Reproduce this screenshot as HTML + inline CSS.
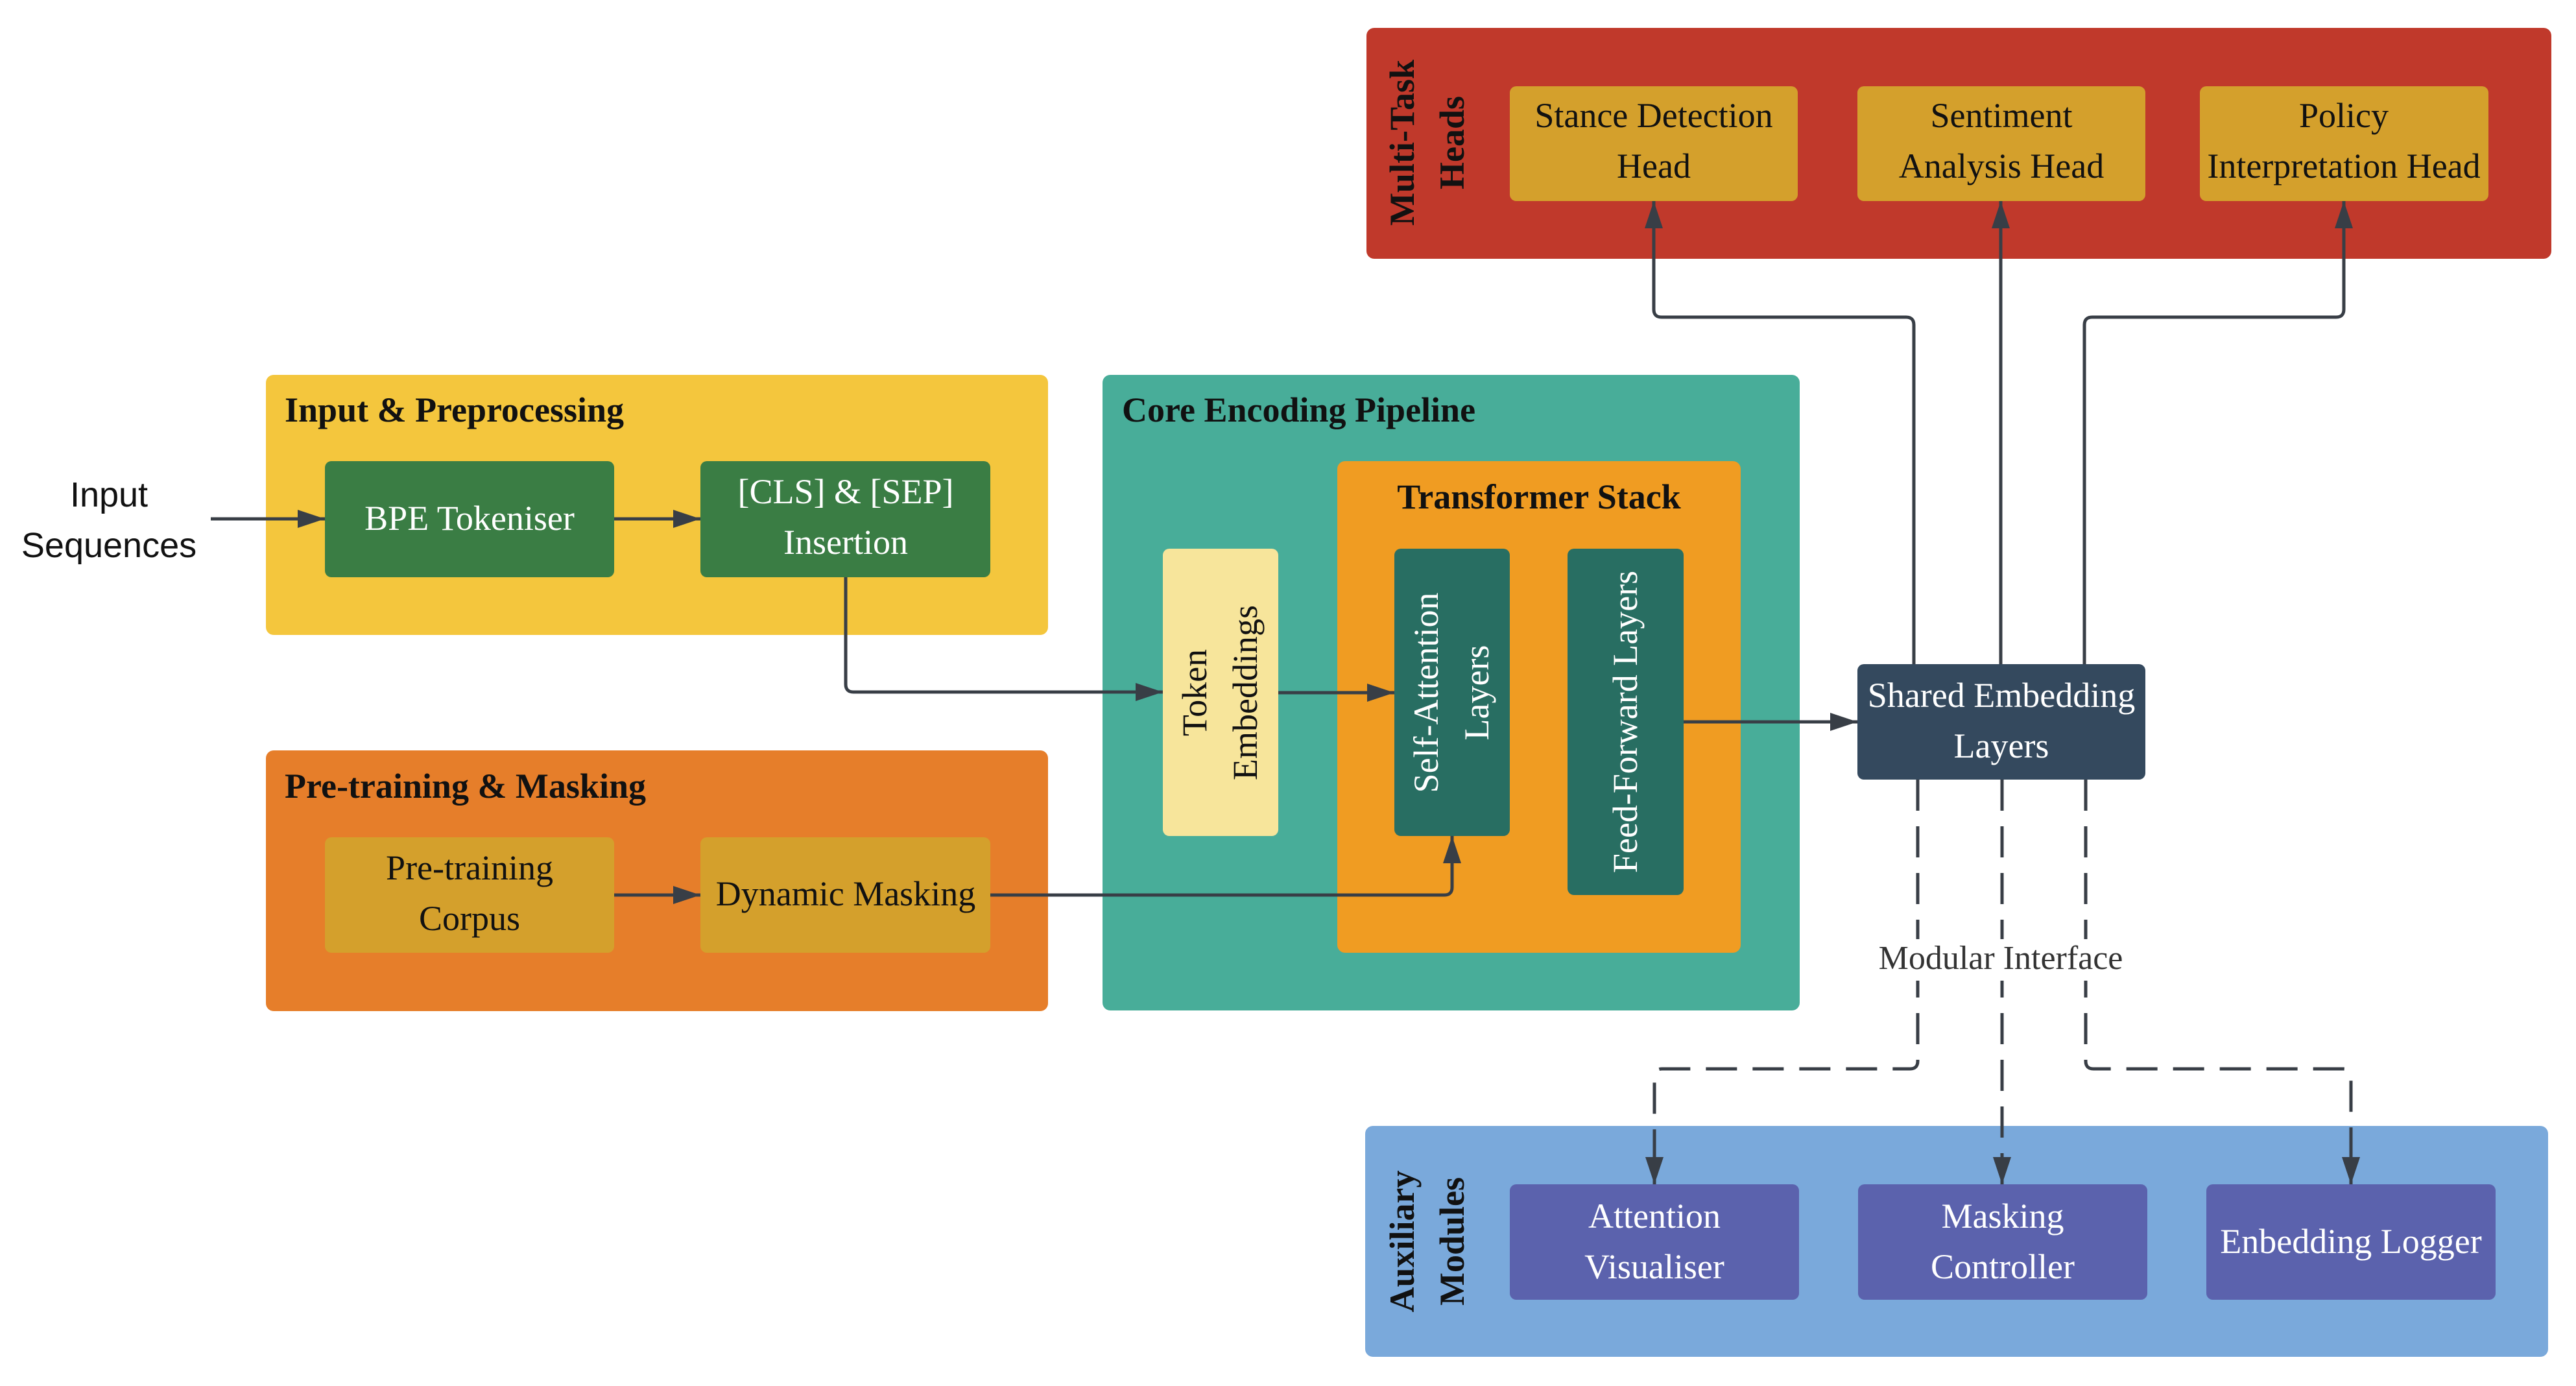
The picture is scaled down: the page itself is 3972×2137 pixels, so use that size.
<!DOCTYPE html>
<html><head><meta charset="utf-8"><style>
html,body{margin:0;padding:0;background:#fff;}
svg{display:block;}
text{font-family:"Liberation Serif",serif;}
text.sans{font-family:"Liberation Sans",sans-serif;}
</style></head><body>
<svg width="3972" height="2137" viewBox="0 0 3972 2137" xmlns="http://www.w3.org/2000/svg">
<defs>
<marker id="a" viewBox="0 0 42 28" refX="42" refY="14" markerWidth="42" markerHeight="28" orient="auto" markerUnits="userSpaceOnUse">
<path d="M0,0 L42,14 L0,28 z" fill="#383e46"/>
</marker>
</defs>

<rect x="410" y="578" width="1206" height="401" rx="12" fill="#f4c63d"/>
<rect x="410" y="1157" width="1206" height="402" rx="12" fill="#e67e2a"/>
<rect x="1700" y="578" width="1075" height="980" rx="12" fill="#48ad99"/>
<rect x="2062" y="711" width="622" height="758" rx="12" fill="#f09c22"/>
<rect x="2107" y="43" width="1827" height="356" rx="12" fill="#c0392b"/>
<rect x="2105" y="1736" width="1824" height="356" rx="12" fill="#7aa9db"/>

<g font-weight="bold" font-size="54" fill="#111">
<text x="439" y="650">Input &amp; Preprocessing</text>
<text x="439" y="1230">Pre-training &amp; Masking</text>
<text x="1730" y="650">Core Encoding Pipeline</text>
<text x="2373" y="784" text-anchor="middle">Transformer Stack</text>
<text transform="translate(2180,220) rotate(-90)" text-anchor="middle">Multi-Task</text>
<text transform="translate(2257,220) rotate(-90)" text-anchor="middle">Heads</text>
<text transform="translate(2180,1914) rotate(-90)" text-anchor="middle">Auxiliary</text>
<text transform="translate(2257,1914) rotate(-90)" text-anchor="middle">Modules</text>
</g>

<rect x="501" y="711" width="446" height="179" rx="10" fill="#3a7d44"/>
<rect x="1080" y="711" width="447" height="179" rx="10" fill="#3a7d44"/>
<rect x="501" y="1291" width="446" height="178" rx="10" fill="#d4a02c"/>
<rect x="1080" y="1291" width="447" height="178" rx="10" fill="#d4a02c"/>
<rect x="1793" y="846" width="178" height="443" rx="10" fill="#f7e59b"/>
<rect x="2150" y="846" width="178" height="443" rx="10" fill="#286e62"/>
<rect x="2417" y="846" width="179" height="534" rx="10" fill="#286e62"/>
<rect x="2864" y="1024" width="444" height="178" rx="10" fill="#34495e"/>
<rect x="2328" y="133" width="444" height="177" rx="10" fill="#d4a02c"/>
<rect x="2864" y="133" width="444" height="177" rx="10" fill="#d4a02c"/>
<rect x="3392" y="133" width="445" height="177" rx="10" fill="#d4a02c"/>
<rect x="2328" y="1826" width="446" height="178" rx="10" fill="#5b62ad"/>
<rect x="2865" y="1826" width="446" height="178" rx="10" fill="#5b62ad"/>
<rect x="3402" y="1826" width="446" height="178" rx="10" fill="#5b62ad"/>

<g font-size="54" text-anchor="middle">
<g fill="#fff">
<text x="724" y="817">BPE Tokeniser</text>
<text x="1304" y="776">[CLS] &amp; [SEP]</text>
<text x="1304" y="854">Insertion</text>
<text x="3086" y="1090">Shared Embedding</text>
<text x="3086" y="1168">Layers</text>
<text x="2551" y="1893">Attention</text>
<text x="2551" y="1971">Visualiser</text>
<text x="3088" y="1893">Masking</text>
<text x="3088" y="1971">Controller</text>
<text x="3625" y="1932">Enbedding Logger</text>
<text transform="translate(2217,1068) rotate(-90)">Self-Attention</text>
<text transform="translate(2295,1068) rotate(-90)">Layers</text>
<text transform="translate(2524,1113) rotate(-90)">Feed-Forward Layers</text>
</g>
<g fill="#111">
<text x="724" y="1356">Pre-training</text>
<text x="724" y="1434">Corpus</text>
<text x="1304" y="1396">Dynamic Masking</text>
<text transform="translate(1860,1068) rotate(-90)">Token</text>
<text transform="translate(1938,1068) rotate(-90)">Embeddings</text>
<text x="2550" y="196">Stance Detection</text>
<text x="2550" y="274">Head</text>
<text x="3086" y="196">Sentiment</text>
<text x="3086" y="274">Analysis Head</text>
<text x="3614" y="196">Policy</text>
<text x="3614" y="274">Interpretation Head</text>
</g>
</g>

<text class="sans" x="168" y="781" font-size="54" fill="#111" text-anchor="middle">Input</text>
<text class="sans" x="168" y="859" font-size="54" fill="#111" text-anchor="middle">Sequences</text>

<g stroke="#383e46" stroke-width="5" fill="none">
<path d="M325,800 L501,800" marker-end="url(#a)"/>
<path d="M947,800 L1080,800" marker-end="url(#a)"/>
<path d="M947,1380 L1080,1380" marker-end="url(#a)"/>
<path d="M1304,890 L1304,1055 Q1304,1067 1316,1067 L1793,1067" marker-end="url(#a)"/>
<path d="M1527,1380 L2227,1380 Q2239,1380 2239,1368 L2239,1289" marker-end="url(#a)"/>
<path d="M1971,1068 L2150,1068" marker-end="url(#a)"/>
<path d="M2596,1113 L2864,1113" marker-end="url(#a)"/>
<path d="M2951,1024 L2951,501 Q2951,489 2939,489 L2562,489 Q2550,489 2550,477 L2550,310" marker-end="url(#a)"/>
<path d="M3085,1024 L3085,310" marker-end="url(#a)"/>
<path d="M3214,1024 L3214,501 Q3214,489 3226,489 L3602,489 Q3614,489 3614,477 L3614,310" marker-end="url(#a)"/>
<g stroke-dasharray="48 24">
<path d="M2957,1202 L2957,1636 Q2957,1648 2945,1648 L2563,1648 Q2551,1648 2551,1660 L2551,1826" marker-end="url(#a)"/>
<path d="M3087,1202 L3087,1826" marker-end="url(#a)"/>
<path d="M3216,1202 L3216,1636 Q3216,1648 3228,1648 L3613,1648 Q3625,1648 3625,1660 L3625,1826" marker-end="url(#a)"/>
</g>
</g>

<rect x="2880" y="1448" width="410" height="64" fill="#fff"/>
<text x="3085" y="1494" font-size="52" fill="#333" text-anchor="middle">Modular Interface</text>
</svg>
</body></html>
